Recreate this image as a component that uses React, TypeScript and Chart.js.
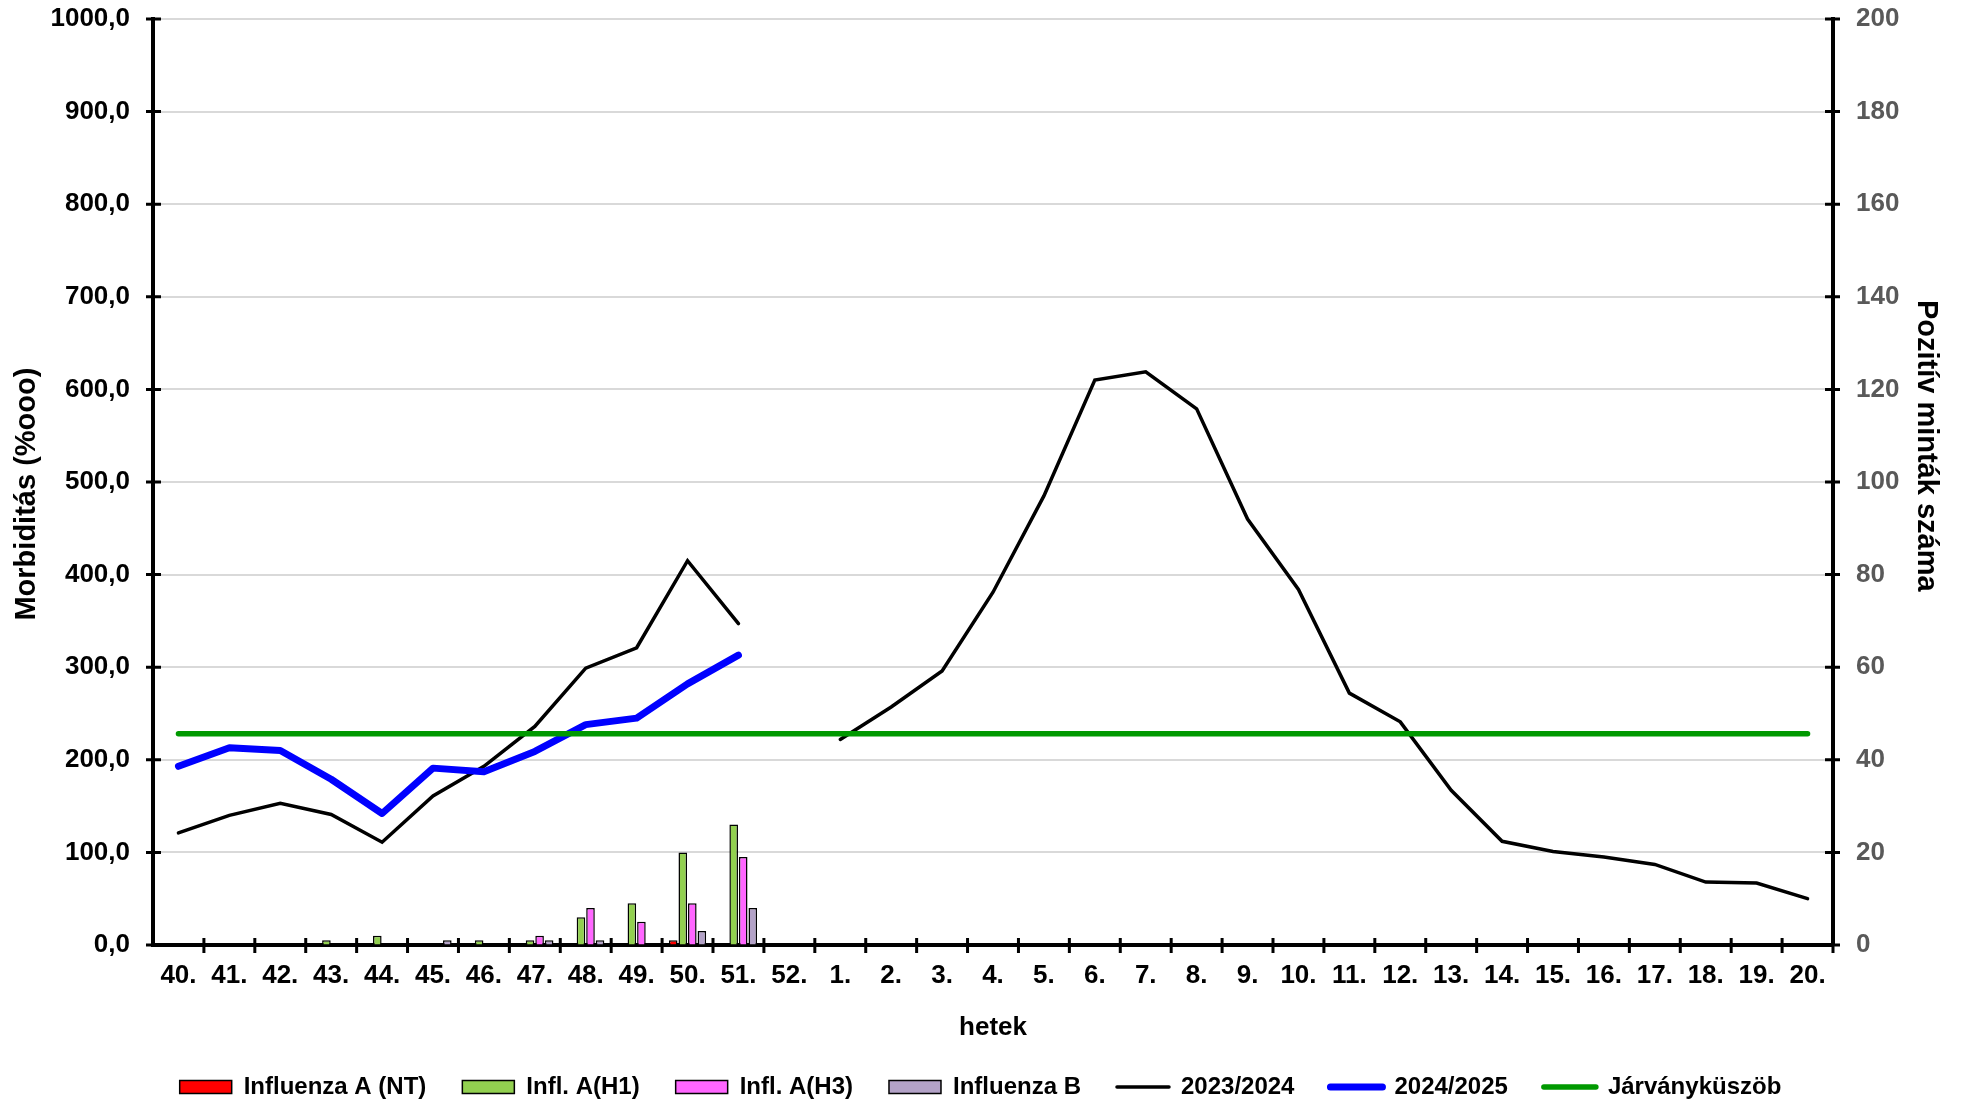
import React, { useEffect, useRef } from "react";
import { Chart, registerables } from "chart.js";

Chart.register(...registerables);

const weeks = [
  "40.", "41.", "42.", "43.", "44.", "45.", "46.", "47.", "48.", "49.", "50.", "51.", "52.",
  "1.", "2.", "3.", "4.", "5.", "6.", "7.", "8.", "9.", "10.", "11.", "12.", "13.", "14.",
  "15.", "16.", "17.", "18.", "19.", "20.",
];

const inflANT = [0, 0, 0, 0, 0, 0, 0, 0, 0, 0, 1, 0, 0, 0, 0, 0, 0, 0, 0, 0, 0, 0, 0, 0, 0, 0, 0, 0, 0, 0, 0, 0, 0];
const inflAH1 = [0, 0, 0, 1, 2, 0, 1, 1, 6, 9, 20, 26, 0, 0, 0, 0, 0, 0, 0, 0, 0, 0, 0, 0, 0, 0, 0, 0, 0, 0, 0, 0, 0];
const inflAH3 = [0, 0, 0, 0, 0, 0, 0, 2, 8, 5, 9, 19, 0, 0, 0, 0, 0, 0, 0, 0, 0, 0, 0, 0, 0, 0, 0, 0, 0, 0, 0, 0, 0];
const inflB = [0, 0, 0, 0, 0, 1, 0, 1, 1, 0, 3, 8, 0, 0, 0, 0, 0, 0, 0, 0, 0, 0, 0, 0, 0, 0, 0, 0, 0, 0, 0, 0, 0];

const season2023 = [
  121, 140, 153, 141, 111, 161, 193, 236, 299, 321, 415, 347, null,
  222, 257, 296, 381, 485, 610, 619, 579, 460, 384, 272, 241, 167, 112,
  101, 95, 87, 68, 67, 50,
];
const season2024 = [
  193, 213, 210, 179, 142, 191, 187, 209, 238, 245, 282, 313, null,
  null, null, null, null, null, null, null, null, null, null, null, null, null, null,
  null, null, null, null, null, null,
];
const threshold = [
  228, 228, 228, 228, 228, 228, 228, 228, 228, 228, 228, 228, 228,
  228, 228, 228, 228, 228, 228, 228, 228, 228, 228, 228, 228, 228, 228,
  228, 228, 228, 228, 228, 228,
];

const leftTitle = "Morbiditás (%ooo)";
const rightTitle = "Pozitív minták száma";
const xTitle = "hetek";

const FONT = "'Liberation Sans', Arial, sans-serif";

const crossTicks = {
  id: "crossTicks",
  afterDraw(chart: any) {
    const ctx = chart.ctx;
    const x = chart.scales.x;
    const y = chart.scales.y;
    const y1 = chart.scales.y1;
    ctx.save();
    ctx.strokeStyle = "#000";
    ctx.lineWidth = 3;
    ctx.beginPath();
    y.ticks.forEach((_: any, i: number) => {
      const py = y.getPixelForTick(i);
      ctx.moveTo(y.right - 7, py);
      ctx.lineTo(y.right + 8, py);
    });
    y1.ticks.forEach((_: any, i: number) => {
      const py = y1.getPixelForTick(i);
      ctx.moveTo(y1.left - 8, py);
      ctx.lineTo(y1.left + 7, py);
    });
    const n = x.ticks.length;
    const step = x.getPixelForValue(1) - x.getPixelForValue(0);
    const start = x.getPixelForValue(0) - step / 2;
    for (let i = 1; i <= n; i++) {
      const px = start + i * step;
      ctx.moveTo(px, x.top - 7);
      ctx.lineTo(px, x.top + 8);
    }
    ctx.stroke();
    ctx.restore();
  },
};

export default function App() {
  const ref = useRef<HTMLCanvasElement | null>(null);

  useEffect(() => {
    if (!ref.current) return;
    Chart.defaults.font.family = FONT;
    const barBase = {
      type: "bar" as const,
      yAxisID: "y1",
      borderColor: "#000",
      borderWidth: 1.5,
      categoryPercentage: 0.75,
      barPercentage: 0.9,
      order: 3,
    };
    const chart = new Chart(ref.current, {
      type: "bar",
      data: {
        labels: weeks,
        datasets: [
          { ...barBase, label: "Influenza A (NT)", data: inflANT, backgroundColor: "#FF0000" },
          { ...barBase, label: "Infl. A(H1)", data: inflAH1, backgroundColor: "#92D050" },
          { ...barBase, label: "Infl. A(H3)", data: inflAH3, backgroundColor: "#FF66FF" },
          { ...barBase, label: "Influenza B", data: inflB, backgroundColor: "#B3A2C7" },
          {
            type: "line",
            label: "2023/2024",
            data: season2023,
            yAxisID: "y",
            borderColor: "#000",
            backgroundColor: "#000",
            borderWidth: 3.5,
            pointRadius: 0,
            spanGaps: false,
            borderCapStyle: "round",
            order: 2,
          },
          {
            type: "line",
            label: "2024/2025",
            data: season2024,
            yAxisID: "y",
            borderColor: "#0000FF",
            backgroundColor: "#0000FF",
            borderWidth: 7,
            pointRadius: 0,
            spanGaps: false,
            borderCapStyle: "round",
            borderJoinStyle: "round",
            order: 1,
          },
          {
            type: "line",
            label: "Járványküszöb",
            data: threshold,
            yAxisID: "y",
            borderColor: "#009900",
            backgroundColor: "#009900",
            borderWidth: 5.5,
            pointRadius: 0,
            borderCapStyle: "round",
            order: 0,
          },
        ] as any,
      },
      options: {
        responsive: true,
        maintainAspectRatio: false,
        animation: false,
        layout: { padding: { top: 19, bottom: -7, left: 0, right: 0 } },
        plugins: {
          tooltip: { enabled: false },
          legend: {
            position: "bottom",
            labels: {
              sort: (a: any, b: any) => a.datasetIndex - b.datasetIndex,
              usePointStyle: true,
              pointStyleWidth: 52,
              boxHeight: 13,
              padding: 36,
              color: "#000",
              font: { size: 24, weight: "bold", family: FONT },
              generateLabels: (ch: any) => {
                const items = Chart.defaults.plugins.legend.labels.generateLabels(ch);
                return items.map((it: any) => {
                  const ds = ch.data.datasets[it.datasetIndex];
                  if (ds.type === "line") {
                    return { ...it, pointStyle: "line", strokeStyle: ds.borderColor, lineWidth: ds.borderWidth, lineCap: "round" };
                  }
                  return { ...it, pointStyle: "rect", strokeStyle: "#000", lineWidth: 1.5 };
                });
              },
            },
          },
        },
        scales: {
          x: {
            offset: true,
            grid: { display: true, drawOnChartArea: false, drawTicks: false, offset: true },
            border: { display: true, color: "#000", width: 4 },
            ticks: {
              color: "#000",
              font: { size: 26, weight: "bold", family: FONT },
              maxRotation: 0,
              autoSkip: false,
              padding: 15,
            },
            title: {
              display: true,
              text: xTitle,
              color: "#000",
              font: { size: 26, weight: "bold", family: FONT },
              padding: { top: 0, bottom: -4 },
            },
            afterFit: (s: any) => {
              s.height = 94;
            },
          },
          y: {
            position: "left",
            min: 0,
            max: 1000,
            grid: { color: "#D9D9D9", lineWidth: 2, drawTicks: true, tickLength: 20, tickColor: "rgba(0,0,0,0)" },
            border: { display: true, color: "#000", width: 4 },
            ticks: {
              stepSize: 100,
              color: "#000",
              padding: 3,
              font: { size: 26, weight: "bold", family: FONT },
              callback: (v: any) => Number(v).toFixed(1).replace(".", ","),
            },
            title: {
              display: true,
              text: leftTitle + "   ",
              color: "#000",
              font: { size: 29, weight: "bold", family: FONT },
              padding: { top: 9.6, bottom: 0 },
            },
            afterFit: (s: any) => {
              s.width = 153;
            },
          },
          y1: {
            position: "right",
            min: 0,
            max: 200,
            grid: { drawOnChartArea: false, drawTicks: true, tickLength: 20, tickColor: "rgba(0,0,0,0)" },
            border: { display: true, color: "#000", width: 4 },
            ticks: {
              stepSize: 20,
              color: "#595959",
              padding: 3,
              font: { size: 26, weight: "bold", family: FONT },
            },
            title: {
              display: true,
              text: rightTitle + "         ",
              color: "#000",
              font: { size: 29, weight: "bold", family: FONT },
              padding: { top: 17.6, bottom: 0 },
            },
            afterFit: (s: any) => {
              s.width = 128;
            },
          },
        },
      },
      plugins: [crossTicks],
    });
    return () => chart.destroy();
  }, []);

  return (
    <div style={{ position: "fixed", left: 0, top: 0, width: 1961, height: 1102, background: "#fff" }}>
      <canvas ref={ref} />
    </div>
  );
}
